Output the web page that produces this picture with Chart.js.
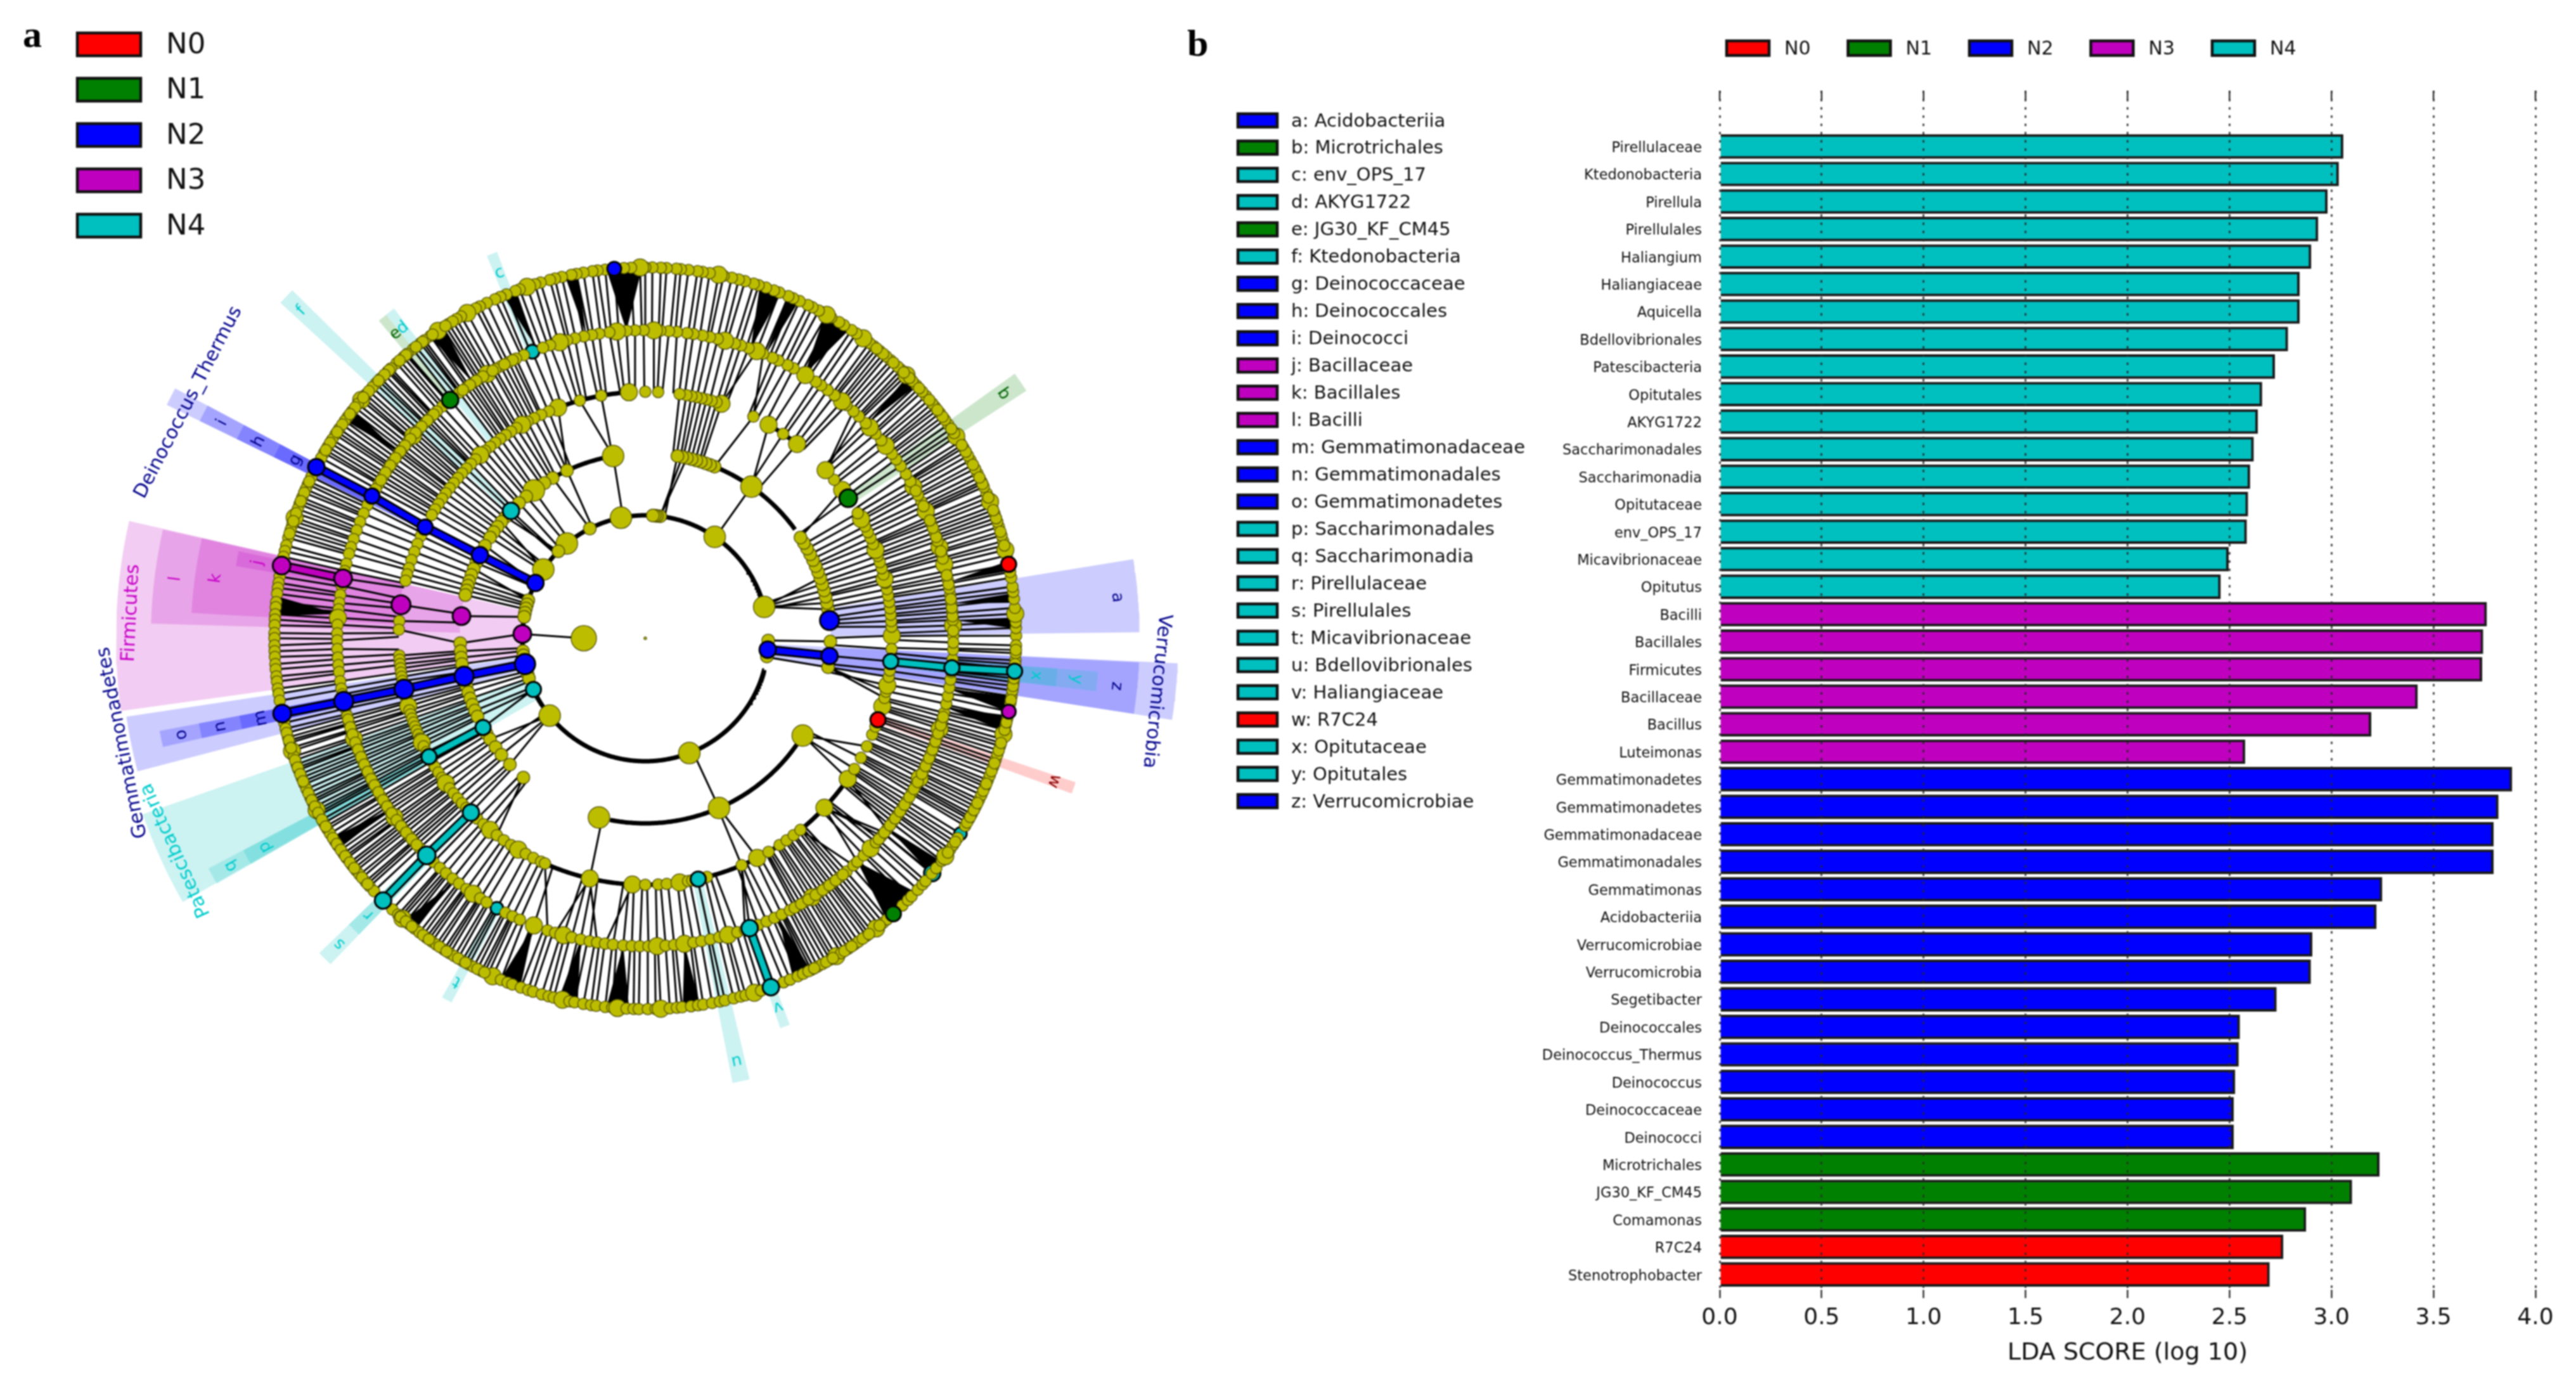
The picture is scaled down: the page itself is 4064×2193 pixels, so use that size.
<!DOCTYPE html>
<html>
<head>
<meta charset="utf-8">
<title>LDA cladogram and scores</title>
<script src="https://cdn.jsdelivr.net/npm/chart.js@4"></script>
<style>
html, body { margin: 0; padding: 0; background: #fff; width: 4064px; height: 2193px; overflow: hidden; }
canvas { position: absolute; top: 0; filter: blur(1px); }
#cladogram { left: 0; }
#scores { left: 2350px; }
</style>
</head>
<body>
<canvas id="cladogram" width="2440" height="2193"></canvas>
<canvas id="scores" width="1714" height="2193"></canvas>
<script>
var groupNames = ["N0", "N1", "N2", "N3", "N4"];
var groupColors = { N0: "#ff0000", N1: "#008000", N2: "#0000ff", N3: "#bf00bf", N4: "#00bfbf" };
var groupInk = { N0: "#8b0000", N1: "#006400", N2: "#00008b", N3: "#c800c8", N4: "#00cccc" };

// panel b
var taxa = ["Pirellulaceae", "Ktedonobacteria", "Pirellula", "Pirellulales", "Haliangium", "Haliangiaceae", "Aquicella", "Bdellovibrionales", "Patescibacteria", "Opitutales", "AKYG1722", "Saccharimonadales", "Saccharimonadia", "Opitutaceae", "env_OPS_17", "Micavibrionaceae", "Opitutus", "Bacilli", "Bacillales", "Firmicutes", "Bacillaceae", "Bacillus", "Luteimonas", "Gemmatimonadetes", "Gemmatimonadetes", "Gemmatimonadaceae", "Gemmatimonadales", "Gemmatimonas", "Acidobacteriia", "Verrucomicrobiae", "Verrucomicrobia", "Segetibacter", "Deinococcales", "Deinococcus_Thermus", "Deinococcus", "Deinococcaceae", "Deinococci", "Microtrichales", "JG30_KF_CM45", "Comamonas", "R7C24", "Stenotrophobacter"];
var ldaScores = [3.057, 3.035, 2.98, 2.934, 2.90, 2.843, 2.843, 2.786, 2.722, 2.659, 2.638, 2.618, 2.60, 2.59, 2.584, 2.495, 2.456, 3.761, 3.743, 3.738, 3.422, 3.194, 2.576, 3.885, 3.818, 3.794, 3.794, 3.248, 3.22, 2.905, 2.898, 2.73, 2.55, 2.544, 2.527, 2.52, 2.52, 3.235, 3.10, 2.875, 2.763, 2.696];
var taxaGroups = ["N4", "N4", "N4", "N4", "N4", "N4", "N4", "N4", "N4", "N4", "N4", "N4", "N4", "N4", "N4", "N4", "N4", "N3", "N3", "N3", "N3", "N3", "N3", "N2", "N2", "N2", "N2", "N2", "N2", "N2", "N2", "N2", "N2", "N2", "N2", "N2", "N2", "N1", "N1", "N1", "N0", "N0"];
var scoreTicks = [0, 0.5, 1, 1.5, 2, 2.5, 3, 3.5, 4];

// clade key of panel b
var cladeKey = ["a: Acidobacteriia", "b: Microtrichales", "c: env_OPS_17", "d: AKYG1722", "e: JG30_KF_CM45", "f: Ktedonobacteria", "g: Deinococcaceae", "h: Deinococcales", "i: Deinococci", "j: Bacillaceae", "k: Bacillales", "l: Bacilli", "m: Gemmatimonadaceae", "n: Gemmatimonadales", "o: Gemmatimonadetes", "p: Saccharimonadales", "q: Saccharimonadia", "r: Pirellulaceae", "s: Pirellulales", "t: Micavibrionaceae", "u: Bdellovibrionales", "v: Haliangiaceae", "w: R7C24", "x: Opitutaceae", "y: Opitutales", "z: Verrucomicrobiae"];
var cladeKeyGroups = ["N2", "N1", "N4", "N4", "N1", "N4", "N2", "N2", "N2", "N3", "N3", "N3", "N2", "N2", "N2", "N4", "N4", "N4", "N4", "N4", "N4", "N4", "N0", "N4", "N4", "N2"];

// panel a, ring distance from the centre, one unit = one pixel of the picture
var ringRadius = [0, 97, 194, 292, 389, 486, 585];

// olive nodes, angle in degrees on each ring
var ring2Angles = [14.8, 351.5, 359, 55.6, 83, 84.5, 85.5, 86.5, 101.4, 116.8, 129.6, 135, 146, 162, 164, 166, 168, 170, 186, 188, 197, 199, 219, 291];
var ring3Angles = [351, 359, 9, 11, 13, 15, 17, 19, 21, 23, 25, 27, 29, 31, 33, 55, 68, 69.5, 71, 72.5, 74, 75.5, 77, 78.5, 80, 100, 115, 120, 123, 127, 130, 133, 137.5, 139, 141, 143, 145, 147, 150, 156, 158, 160, 162, 163.5, 165, 166.5, 181.5, 184, 186, 188, 195, 197, 199, 201, 203, 205, 211, 213, 216, 219, 223, 228.8, 255.5, 293.5, 328.3];
var ring4Angles = [0.6, 2.7, 4, 5.5, 7, 8.5, 10, 11.5, 13, 13.9, 15, 16.5, 18, 19.5, 21, 22.5, 24, 25.5, 27, 28.9, 30.5, 37, 40, 43, 52, 56, 60, 64, 72, 73.2, 74.4, 75.6, 76.8, 78, 79.2, 80.4, 82, 87, 90, 93.8, 100.3, 105.4, 110.7, 113, 115, 116.8, 118.5, 120, 121.5, 123, 124.5, 126, 127.5, 129, 130.5, 132, 133.5, 135, 136.5, 138, 139.5, 141, 142.5, 144, 145.5, 147, 148.5, 150, 155.5, 157.5, 159.5, 161.5, 163.5, 165, 166.5, 176, 178, 184, 185, 186, 187, 188, 189, 190, 194, 195, 196, 197, 198, 199, 200, 201, 202, 203, 204, 205, 206, 207.5, 210, 211.5, 213, 214.5, 216, 217.5, 219, 220.5, 222, 223.5, 227, 229, 231, 233, 235, 237, 239, 241, 243, 245, 246, 257, 267, 270, 273, 275, 278, 280, 281, 284.5, 293, 297, 300, 303, 305, 307, 309, 316.6, 325.2, 328, 331, 334, 337, 339, 344, 346, 347.5, 349, 351, 352.5, 357.5];
var ring5Angles = [0.5, 2.4, 3.4, 4.9, 6.5, 8.1, 9.3, 11, 12.6, 13.9, 15.7, 17.2, 18.4, 20.1, 21.8, 23.2, 24.4, 26.3, 27.7, 29.5, 30.6, 32.2, 34, 35.5, 36.8, 38.7, 40, 41.6, 43.2, 44.3, 46.1, 47.5, 49.2, 50.3, 52.1, 53.7, 55.2, 56.4, 58.7, 61.2, 62.5, 64.4, 65.6, 67.5, 68.8, 70.4, 71.9, 73.1, 75, 76.4, 77.9, 79.3, 81, 82.2, 84.1, 85.6, 87.2, 88.4, 90.3, 91.9, 93.5, 95.3, 96.7, 98.6, 100, 101.5, 103.2, 104.7, 106.1, 108, 109.4, 113.2, 114.8, 116.3, 118, 119.1, 120.9, 122.6, 124, 125.4, 127.1, 131.2, 132.6, 134.3, 135.6, 137.5, 138.9, 140.4, 142.1, 143.3, 145.2, 146.6, 148.3, 149.9, 151, 154.4, 156.1, 157.8, 159.5, 161.2, 162.8, 164.1, 166, 167.4, 170.2, 171.9, 173.4, 174.6, 176.2, 177.5, 179.1, 180.4, 182, 183.6, 185, 186.3, 188, 189.4, 190.5, 193.2, 194.6, 196.1, 197.4, 199, 200.5, 202, 203.4, 204.9, 206.5, 207.9, 209.2, 211, 212.4, 213.8, 215.5, 216.9, 218.3, 220, 221.3, 222.9, 226.6, 228.2, 229.7, 231.3, 232.8, 234.5, 236, 237.6, 239, 243, 244.5, 246, 248.8, 251.5, 253, 254.6, 256.2, 257.9, 259.6, 261, 262.5, 264, 265.9, 267.5, 269, 270.6, 272.2, 273.8, 275.4, 277.3, 279, 280.5, 282.2, 283.9, 285.6, 287.4, 288.9, 291.5, 293.2, 294.8, 296.3, 298, 299.6, 301.2, 302.8, 304.4, 306, 307.4, 309.1, 310.8, 312.5, 313.5, 315.2, 317, 318.5, 320.1, 321.7, 323.4, 325, 326.6, 328.1, 329.9, 331.5, 333, 334.8, 336.2, 338, 339.5, 341.2, 342.9, 344.4, 346, 347.7, 349.2, 350.8, 352.3, 353.7, 356.1, 357.9, 359.2,
  1.4, 4.1, 5.7, 7.3, 10.1, 11.8, 15, 16.4, 19.2, 21, 22.5, 25.4, 28.6, 115.5, 117.2, 119.7, 121.8, 123.3, 124.7, 126.3, 133.4, 135, 136.6, 138.2, 139.7, 141.3, 142.7, 144.2, 145.9, 147.5, 149.1, 195.3, 196.8, 198.2, 199.8, 201.2, 202.7, 204.2, 205.7, 207.2, 208.5, 210, 211.7, 213.1, 214.6, 216.2, 217.6, 219.1, 220.7, 222.1, 299, 300.4, 302, 303.6, 305.2, 306.7, 308.2, 309.9, 319.3, 320.9, 322.6, 324.2, 325.8, 327.3, 329, 330.7, 332.2, 333.9, 335.5, 337.1, 338.8, 340.4, 342, 343.6, 345.2];
var ring6Angles = [0.4, 1.6, 2.5, 3.8, 4.7, 6.1, 7.2, 8, 9.4, 10.3, 12.9, 13.8, 15.2, 16.1, 17.5, 18.3, 19.6, 20.8, 21.6, 23, 24.1, 25, 26.4, 27.2, 28.7, 29.5, 30.9, 32, 33, 33.6, 35.2, 36.1, 37.4, 38.6, 39.3, 40.8, 41.7, 43, 43.9, 45.2, 46.4, 47.1, 48.6, 49.5, 50.8, 52, 52.8, 54, 55.3, 56.2, 57.6, 58.5, 59.9, 60.7, 62.1, 63.2, 64, 65.4, 66.5, 67.3, 68.8, 69.7, 71, 72.2, 73, 74.4, 75.4, 76.5, 77.8, 78.6, 80, 81.1, 81.9, 83.3, 84.5, 85.2, 86.7, 87.6, 88.9, 90, 90.8, 92.2, 93.3, 96.2, 97.4, 98.2, 99.6, 100.7, 101.5, 103, 104.1, 104.9, 106.4, 107.3, 108.6, 109.8, 110.5, 112, 113, 113.9, 115.3, 116.5, 117.2, 118.7, 119.8, 120.6, 122, 123.1, 124, 125.4, 126.5, 127.3, 128.8, 129.9, 130.7, 132.1, 133.3, 134, 135.5, 136.6, 137.4, 138.9, 140, 140.8, 142.2, 143.4, 144.1, 145.6, 146.7, 147.6, 148.9, 150, 150.9, 154.2, 155.5, 156.3, 157.7, 158.8, 159.6, 161, 162.2, 163, 164.3, 165.5, 166.4, 167.3, 170.4, 171.4, 172.2, 173.1, 174.4, 175.2, 176.3, 177.1, 178, 179.2, 180, 181.1, 182, 182.9, 184, 184.8, 185.9, 186.7, 187.8, 188.6, 189.7, 193.2, 194.1, 195.5, 196.4, 197.7, 198.6, 199.9, 200.8, 202.1, 203.2, 204, 205.4, 206.3, 207.6, 208.5, 209.9, 211, 211.8, 213.2, 214.1, 215.5, 216.4, 217.7, 218.8, 219.6, 221, 222, 223, 227, 228.2, 229.1, 230.4, 231.6, 232.5, 233.8, 234.9, 235.7, 237.1, 238.2, 239, 240.4, 241.6, 242.4, 243.8, 244.9, 245.7, 247.1, 248.2, 249, 250.4, 251.6, 252.4, 253.8, 254.9, 255.7, 257.1, 258.2, 259, 260.4, 261.6, 262.4, 263.8, 264.9, 265.7, 267.1, 268.2, 269, 270.4, 271.6, 272.4, 273.8, 274.9, 275.7, 277.1, 278.2, 279, 280.4, 281.6, 282.4, 283.8, 284.9, 285.7, 287.1, 288.2, 291.9, 293, 294.3, 295.2, 296.6, 297.7, 298.5, 299.9, 301, 301.9, 303.2, 304.4, 305.1, 306.6, 307.7, 308.5, 309.9, 310.7, 313.9, 315.1, 315.9, 317.3, 318.4, 319.1, 320.6, 321.7, 323.1, 324, 325.3, 326.1, 327.4, 329.6, 330.8, 331.7, 333, 334.2, 335, 336.4, 337.5, 338.3, 339.7, 340.9, 341.7, 343.1, 344.2, 345, 346.4, 347.5, 349.9, 351, 351.9, 353.2, 354.3, 355.3, 356.6, 357.7, 358.9,
  14.5, 16.7, 18.9, 20.2, 22.3, 24.6, 25.7, 27.9, 30.2, 31.4, 34.4, 36.7, 38, 40, 42.4, 44.6, 45.8, 48, 50.1, 51.4, 121.3, 122.6, 125, 126.9, 128.2, 130.2, 131.5, 133.7, 134.7, 136, 138.2, 139.5, 141.5, 142.8, 144.8, 146.2, 148.2, 149.5, 155, 156.9, 158.3, 160.3, 161.6, 163.6, 194.8, 196, 197.2, 199.2, 200.4, 201.5, 202.7, 204.7, 205.9, 207, 208.1, 209.3, 210.5, 212.6, 213.7, 214.8, 216, 217.2, 218.3, 220.2, 221.5, 228.7, 229.8, 231, 233.2, 234.3, 236.3, 237.6, 239.7, 241, 243.1, 244.3, 296.1, 297.1, 299.2, 300.4, 302.5, 303.8, 305.9, 307.1, 309.2, 324.7, 326.7, 330.2, 331.2, 332.4, 333.6, 335.7, 336.9, 339, 340.3, 342.4, 343.6, 345.7, 346.9, 350.4, 352.6, 353.8, 356, 358.2];

// the larger olive nodes
var ring2Large = [14.8, 55.6, 291, 101.4, 129.6, 219, 146];
var ring3Large = [55, 100, 127, 255.5, 293.5, 328.3];
var ring4Large = [52, 93.8, 257, 297, 316.6, 325.2, 28.9, 0.6, 13.9, 21, 37, 43, 60, 72, 110.7, 120, 132, 196, 205, 216, 231, 239, 267, 278, 344, 349];
var ring5Large = [58.7, 50.3, 2.4, 13.9, 24.4, 88.4, 277.3, 248.8, 43.2, 38.7, 29.5, 17.2, 68.8, 75, 95.3, 106.1, 120.9, 138.9, 176.2, 199, 215.5, 236, 254.6, 272.2, 285.6, 302.8, 317, 333, 342.9];
var ring6Large = [54, 33, 13.8, 3.8, 124, 210, 265.7, 301, 21.6, 45.2, 60.7, 78.6, 90.8, 108.6, 118.7, 140, 161, 197.7, 207.6, 229.1, 245.7, 257.1, 272.4, 287.1, 308.5, 324, 345];

// parents whose children spread wider than usual
var wideFanParents = [84.5];

// marked clades, [ring, angle, group, node radius]; hidden ones sit under the olive nodes
var markedNodes = [[2, 153.3, "N2", 13], [3, 153.3, "N2", 13], [4, 153.2, "N2", 12], [5, 152.5, "N2", 12], [6, 152.5, "N2", 13], [2, 192.1, "N2", 16], [3, 191.8, "N2", 15], [4, 191.9, "N2", 15], [5, 191.8, "N2", 15], [6, 191.7, "N2", 14], [2, 354.7, "N2", 13], [3, 354.5, "N2", 13], [3, 5.5, "N2", 15], [6, 94.8, "N2", 11], [2, 178, "N3", 14], [3, 173.1, "N3", 14], [4, 172.2, "N3", 15], [5, 168.8, "N3", 14], [6, 168.7, "N3", 14], [6, 348.6, "N3", 11], [4, 354.6, "N4", 12], [5, 354.5, "N4", 12], [6, 354.9, "N4", 12], [2, 204.6, "N4", 12], [3, 208.8, "N4", 12], [4, 208.7, "N4", 12], [3, 136.5, "N4", 13], [4, 225, "N4", 13], [5, 224.8, "N4", 14], [6, 225, "N4", 13], [5, 289.8, "N4", 13], [6, 289.8, "N4", 13], [4, 282.4, "N4", 12], [4, 34.6, "N1", 14], [5, 129.3, "N1", 13], [6, 312, "N1", 12], [4, 340.7, "N0", 12], [6, 11.5, "N0", 12]];
var hiddenNodes = [[5, 111.5, "N4", 11], [5, 241.2, "N4", 10], [6, 328.2, "N4", 10], [6, 320.7, "N4", 13]];

// thick links, [from ring, from angle, to ring, to angle, group]
var cladeLinks = [[2, 153.3, 3, 153.3, "N2"], [3, 153.3, 4, 153.2, "N2"], [4, 153.2, 5, 152.5, "N2"], [5, 152.5, 6, 152.5, "N2"], [2, 192.1, 3, 191.8, "N2"], [3, 191.8, 4, 191.9, "N2"], [4, 191.9, 5, 191.8, "N2"], [5, 191.8, 6, 191.7, "N2"], [2, 354.7, 3, 354.5, "N2"], [4, 354.6, 5, 354.5, "N4"], [5, 354.5, 6, 354.9, "N4"], [3, 208.8, 4, 208.7, "N4"], [4, 225, 5, 224.8, "N4"], [5, 224.8, 6, 225, "N4"], [5, 289.8, 6, 289.8, "N4"], [5, 168.8, 6, 168.7, "N3"]];

// thick arcs joining siblings, [ring, from angle, to angle]
var ringArcs = [[2, 14.8, 345], [3, 36, 71], [3, 99, 135], [3, 259, 328], [4, 93, 111], [4, 52, 60], [4, 247, 327]];

// solid black fans, [parent ring, parent angle, first child angle, last child angle]
var solidFans = [[5, 93.5, 90.5, 96], [5, 58.9, 56.5, 61], [5, 70, 68.5, 72], [5, 67, 65.5, 67.5], [5, 44, 43, 45], [5, 313.5, 310.6, 316.8], [5, 277.3, 275.8, 278.5], [5, 295.5, 293.5, 296.5], [5, 248.8, 247, 250.3], [5, 257.9, 256.5, 259.5], [5, 265.9, 264, 267.5], [5, 213.8, 212.5, 214.5], [5, 232, 229.5, 231.5], [5, 175.5, 173.5, 176.5], [5, 124, 123, 125.5], [5, 110.5, 110.5, 112.5], [5, 101, 100.5, 102.5], [5, 143, 142, 144], [5, 10.5, 10.5, 12], [5, 3.4, 1.5, 3.2], [5, 6.5, 5.5, 7], [5, 347, 345.5, 348], [5, 350.5, 348.5, 351], [5, 322, 320.5, 323]];

// shaded clades, [letter or name, group, from radius, to radius, from angle, to angle]
var cladeShades = [
  ["Firmicutes", "N3", 194, 835, 167.2, 187.9],
  ["Deinococcus_Thermus", "N2", 194, 840, 152, 154],
  ["Gemmatimonadetes", "N2", 194, 828, 188.6, 194.7],
  ["Patescibacteria", "N4", 194, 840, 199.3, 209.7],
  ["Verrucomicrobia", "N2", 194, 841, 351.2, 357.3],
  ["l", "N3", 293, 780, 167.3, 178.3], ["k", "N3", 391, 717, 167.3, 176.8], ["j", "N3", 489, 656, 167.9, 170],
  ["i", "N2", 292, 782, 152, 154], ["h", "N2", 389, 717, 152, 154], ["g", "N2", 486, 652, 152, 154],
  ["o", "N2", 292, 780, 190.8, 192.7], ["n", "N2", 389, 717, 190.8, 192.7], ["m", "N2", 486, 652, 190.8, 192.7],
  ["q", "N4", 293, 779, 207.8, 209.8], ["p", "N4", 391, 717, 207.8, 209.8],
  ["s", "N4", 390, 715, 224, 226], ["r", "N4", 488, 650, 224, 226],
  ["t", "N4", 487, 651, 240.5, 242], ["u", "N4", 390, 715, 281.1, 283.3], ["v", "N4", 489, 651, 289.1, 290.5],
  ["c", "N4", 489, 653, 111, 112.5], ["f", "N4", 293, 782, 135.4, 137.4],
  ["e", "N1", 489, 654, 128.7, 130], ["d", "N4", 389, 654, 127.3, 128.7],
  ["b", "N1", 391, 717, 33, 35.6], ["a", "N2", 293, 780, 0.7, 9.2],
  ["z", "N2", 292, 780, 351.2, 357.2], ["y", "N4", 390, 716, 353.3, 355.8], ["x", "N4", 487, 652, 353.3, 355.8],
  ["w", "N0", 390, 716, 340, 341.5]
];
// phylum names sit further out, [name, radius, angle]
var phylumLabels = [["Firmicutes", 812, 177.2], ["Deinococcus_Thermus", 811, 152.7], ["Gemmatimonadetes", 841, 191.3], ["Patescibacteria", 813, 204.3], ["Verrucomicrobia", 811, 354.1]];

function polar(radius, deg) {
    var a = deg * Math.PI / 180;
    return { x: radius * Math.cos(a), y: radius * Math.sin(a) };
}

function sectorOutline(r0, r1, a0, a1) {
    var pts = [];
    var d;
    for (d = a0; d < a1; d += 0.5) pts.push(polar(r1, d));
    pts.push(polar(r1, a1));
    for (d = a1; d > a0; d -= 0.5) pts.push(polar(r0, d));
    pts.push(polar(r0, a0));
    pts.push(polar(r1, a0));
    return pts;
}

function angleGap(a, b) {
    var d = Math.abs(a - b) % 360;
    return d > 180 ? 360 - d : d;
}

function nearest(a, list) {
    var best = list[0];
    list.forEach(function (b) {
        if (angleGap(a, b) < angleGap(a, best)) best = b;
    });
    return best;
}

function ringMembers(ring, olive) {
    var marked = markedNodes.concat(hiddenNodes).filter(function (n) { return n[0] === ring; });
    return olive.concat(marked.map(function (n) { return n[1]; }));
}

var oliveRings = { 2: ring2Angles, 3: ring3Angles, 4: ring4Angles, 5: ring5Angles, 6: ring6Angles };
var oliveLarge = { 2: ring2Large, 3: ring3Large, 4: ring4Large, 5: ring5Large, 6: ring6Large };

// a child hangs off a close parent; far from any parent only the closest child gets a spoke
function spokeData() {
    var pts = [];
    [3, 4, 5, 6].forEach(function (ring) {
        var parents = ringMembers(ring - 1, oliveRings[ring - 1]);
        var children = ringMembers(ring, oliveRings[ring]);
        var closest = {};
        children.forEach(function (a) {
            var p = nearest(a, parents);
            if (closest[p] === undefined || angleGap(a, p) < angleGap(closest[p], p)) closest[p] = a;
        });
        children.forEach(function (a) {
            var p = nearest(a, parents);
            var gap = angleGap(a, p);
            var reach = wideFanParents.indexOf(p) >= 0 ? 20 : 6;
            if (gap > reach && closest[p] !== a) return;
            // the foot of a short spoke stays under the bead, nearly radial
            var signed = ((p - a + 540) % 360) - 180;
            var foot = gap <= 3 ? a + signed * 0.3 : p;
            pts.push(polar(ringRadius[ring - 1], foot));
            pts.push(polar(ringRadius[ring], a));
            pts.push({ x: NaN, y: NaN });
        });
    });
    pts.push({ x: -97, y: 0 }, polar(194, 178));
    return pts;
}

function arcData() {
    var pts = [];
    ringArcs.forEach(function (arc) {
        for (var d = arc[1]; d < arc[2]; d += 0.5) pts.push(polar(ringRadius[arc[0]], d));
        pts.push(polar(ringRadius[arc[0]], arc[2]));
        pts.push({ x: NaN, y: NaN });
    });
    return pts;
}

function linkData(group) {
    var pts = [];
    cladeLinks.filter(function (l) { return l[4] === group; }).forEach(function (l) {
        pts.push(polar(ringRadius[l[0]], l[1]));
        pts.push(polar(ringRadius[l[2]], l[3]));
        pts.push({ x: NaN, y: NaN });
    });
    return pts;
}

function oliveData() {
    var pts = [];
    [6, 5, 4, 3, 2].forEach(function (ring) {
        oliveRings[ring].forEach(function (a) {
            var p = polar(ringRadius[ring], a);
            var big = oliveLarge[ring].indexOf(a) >= 0;
            p.size = big ? (ring < 4 ? 17 : 13.5) : (ring < 4 ? 10 : 9);
            pts.push(p);
        });
    });
    pts.push({ x: -97, y: 0, size: 20 });
    pts.push({ x: 0, y: 0, size: 2 });
    return pts;
}

function markData(list, group) {
    return list.filter(function (n) { return n[2] === group; }).map(function (n) {
        var p = polar(ringRadius[n[0]], n[1]);
        p.size = n[3];
        return p;
    });
}

function markSet(pts, g) {
    return {
        type: "scatter", data: pts, backgroundColor: groupColors[g], borderColor: "#000", borderWidth: 3,
        pointRadius: function (c) { return c.raw ? c.raw.size : 0; }
    };
}

function buildCladogramDatasets() {
    var sets = [];
    cladeShades.forEach(function (s) {
        sets.push({
            type: "line", data: sectorOutline(s[2], s[3], s[4], s[5]), fill: "shape", showLine: true,
            borderWidth: 0, pointRadius: 0, tension: 0,
            backgroundColor: groupColors[s[1]] + "33", borderColor: "transparent"
        });
    });
    solidFans.forEach(function (f) {
        var pts = [polar(ringRadius[f[0]], f[1]), polar(ringRadius[f[0] + 1], f[2]), polar(ringRadius[f[0] + 1], f[3]), polar(ringRadius[f[0]], f[1])];
        sets.push({ type: "line", data: pts, fill: "shape", showLine: true, borderWidth: 0, pointRadius: 0, tension: 0, backgroundColor: "#000", borderColor: "#000" });
    });
    sets.push({ type: "line", data: spokeData(), showLine: true, spanGaps: false, borderColor: "#000", borderWidth: 3, pointRadius: 0, tension: 0 });
    sets.push({ type: "line", data: arcData(), showLine: true, spanGaps: false, borderColor: "#000", borderWidth: 7, pointRadius: 0, tension: 0 });
    groupNames.forEach(function (g) {
        var links = linkData(g);
        if (!links.length) return;
        sets.push({ type: "line", data: links, showLine: true, spanGaps: false, borderColor: "#000", borderWidth: 15, pointRadius: 0, tension: 0 });
        sets.push({ type: "line", data: links, showLine: true, spanGaps: false, borderColor: groupColors[g], borderWidth: 9, pointRadius: 0, tension: 0 });
    });
    groupNames.forEach(function (g) {
        var pts = markData(hiddenNodes, g);
        if (pts.length) sets.push(markSet(pts, g));
    });
    sets.push({
        type: "scatter", data: oliveData(), backgroundColor: "#bdbd00", borderColor: "rgba(70,70,0,0.85)", borderWidth: 1.5,
        pointRadius: function (c) { return c.raw ? c.raw.size : 0; }, pointHoverRadius: 0
    });
    groupNames.forEach(function (g) {
        var pts = markData(markedNodes, g);
        if (pts.length) sets.push(markSet(pts, g));
    });
    // later sets paint on top
    sets.forEach(function (s, i) { s.order = sets.length - i; });
    return sets;
}

function drawKey(ctx, names, colors, x, y, stepX, stepY, boxW, boxH, textGap, font, border) {
    ctx.save();
    ctx.font = font;
    ctx.textBaseline = "middle";
    ctx.textAlign = "left";
    names.forEach(function (name, i) {
        var bx = x + i * stepX;
        var by = y + i * stepY;
        ctx.fillStyle = colors[i];
        ctx.fillRect(bx, by - boxH / 2, boxW, boxH);
        ctx.lineWidth = border;
        ctx.strokeStyle = "#111";
        ctx.strokeRect(bx, by - boxH / 2, boxW, boxH);
        ctx.fillStyle = "#111";
        ctx.fillText(name, bx + boxW + textGap, by + 2);
    });
    ctx.restore();
}

function groupColorList(list) {
    return list.map(function (g) { return groupColors[g]; });
}

var cladogramText = {
    id: "cladogramText",
    afterDatasetsDraw: function (chart) {
        var ctx = chart.ctx;
        var xs = chart.scales.x;
        var ys = chart.scales.y;
        function place(text, radius, deg, font, color) {
            var p = polar(radius, deg);
            ctx.save();
            ctx.translate(xs.getPixelForValue(p.x), ys.getPixelForValue(p.y));
            ctx.rotate((90 - deg) * Math.PI / 180);
            ctx.font = font;
            ctx.fillStyle = color;
            ctx.textAlign = "center";
            ctx.textBaseline = "middle";
            ctx.fillText(text, 0, 0);
            ctx.restore();
        }
        cladeShades.forEach(function (s) {
            if (s[0].length > 1) return;
            place(s[0], s[3] - 33, (s[4] + s[5]) / 2, "26px 'DejaVu Sans'", groupInk[s[1]]);
        });
        phylumLabels.forEach(function (l) {
            var shade = cladeShades.filter(function (s) { return s[0] === l[0]; })[0];
            place(l[0], l[1], l[2], "30px 'DejaVu Sans'", groupInk[shade[1]]);
        });
        drawKey(ctx, groupNames, groupColorList(groupNames), 122, 70, 0, 71.5, 100, 36, 40, "45px 'DejaVu Sans'", 4.5);
        drawKey(ctx, cladeKey, groupColorList(cladeKeyGroups), 1953, 190, 0, 42.96, 62, 21, 22, "29px 'DejaVu Sans'", 4.5);
        ctx.save();
        ctx.fillStyle = "#000";
        ctx.textBaseline = "alphabetic";
        ctx.font = "bold 60px 'Liberation Serif'";
        ctx.fillText("a", 36, 74);
        ctx.fillText("b", 1873, 88);
        ctx.restore();
    }
};

var scoresExtras = {
    id: "scoresExtras",
    afterDraw: function (chart) {
        var ctx = chart.ctx;
        var xs = chart.scales.x;
        ctx.save();
        ctx.strokeStyle = "#333";
        ctx.lineWidth = 2.5;
        scoreTicks.forEach(function (t) {
            var px = xs.getPixelForValue(t);
            ctx.beginPath();
            ctx.moveTo(px, chart.chartArea.top);
            ctx.lineTo(px, chart.chartArea.top + 15);
            ctx.stroke();
        });
        ctx.restore();
        drawKey(ctx, groupNames, groupColorList(groupNames), 374, 76, 191.5, 0, 67, 23, 24, "30px 'DejaVu Sans'", 4.5);
    }
};

function drawCladogram() {
    new Chart(document.getElementById("cladogram"), {
        type: "scatter",
        data: { datasets: buildCladogramDatasets() },
        options: {
            responsive: false,
            animation: false,
            devicePixelRatio: 1,
            layout: { padding: 0, autoPadding: false },
            plugins: { legend: { display: false }, tooltip: { enabled: false } },
            scales: {
                x: { type: "linear", display: false, min: -1018, max: 1422 },
                y: { type: "linear", display: false, min: -1186, max: 1007 }
            }
        },
        plugins: [cladogramText]
    });
}

function drawScores() {
    var rows = ldaScores.map(function (v, i) { return { x: v, y: i }; });
    new Chart(document.getElementById("scores"), {
        type: "bar",
        data: {
            datasets: [{
                data: rows,
                backgroundColor: groupColorList(taxaGroups),
                borderColor: "#1a1a1a",
                borderWidth: 4,
                barThickness: 38
            }]
        },
        options: {
            indexAxis: "y",
            responsive: false,
            animation: false,
            devicePixelRatio: 1,
            layout: { padding: { top: 143, right: 64, left: 0, bottom: 0 }, autoPadding: false },
            plugins: { legend: { display: false }, tooltip: { enabled: false } },
            scales: {
                y: {
                    type: "linear", reverse: true, offset: false, min: -2.03, max: 41.56,
                    grid: { display: false, offset: false },
                    border: { display: false },
                    afterFit: function (scale) { scale.width = 363; },
                    ticks: {
                        stepSize: 1, autoSkip: false, maxTicksLimit: 100, includeBounds: false, padding: 20, labelOffset: 3,
                        font: { family: "'DejaVu Sans'", size: 22.5 }, color: "#111",
                        callback: function (v) { return taxa[v] || ""; }
                    }
                },
                x: {
                    type: "linear", min: 0, max: 4,
                    border: { display: false, dash: [4, 9] },
                    grid: {
                        z: 1, color: "rgba(40,40,40,0.8)", lineWidth: 3,
                        tickLength: 13, tickColor: "#333", tickBorderDash: [], tickWidth: 2.5
                    },
                    afterFit: function (scale) { scale.height = 158; },
                    ticks: {
                        stepSize: 0.5, padding: 10, maxRotation: 0,
                        font: { family: "'DejaVu Sans'", size: 36 }, color: "#111",
                        callback: function (v) { return v.toFixed(1); }
                    },
                    title: {
                        display: true, text: "LDA SCORE (log 10)", color: "#111",
                        font: { family: "'DejaVu Sans'", size: 38 }, padding: { top: 6, bottom: 35 }
                    }
                }
            }
        },
        plugins: [scoresExtras]
    });
}

drawCladogram();
drawScores();
</script>
</body>
</html>
